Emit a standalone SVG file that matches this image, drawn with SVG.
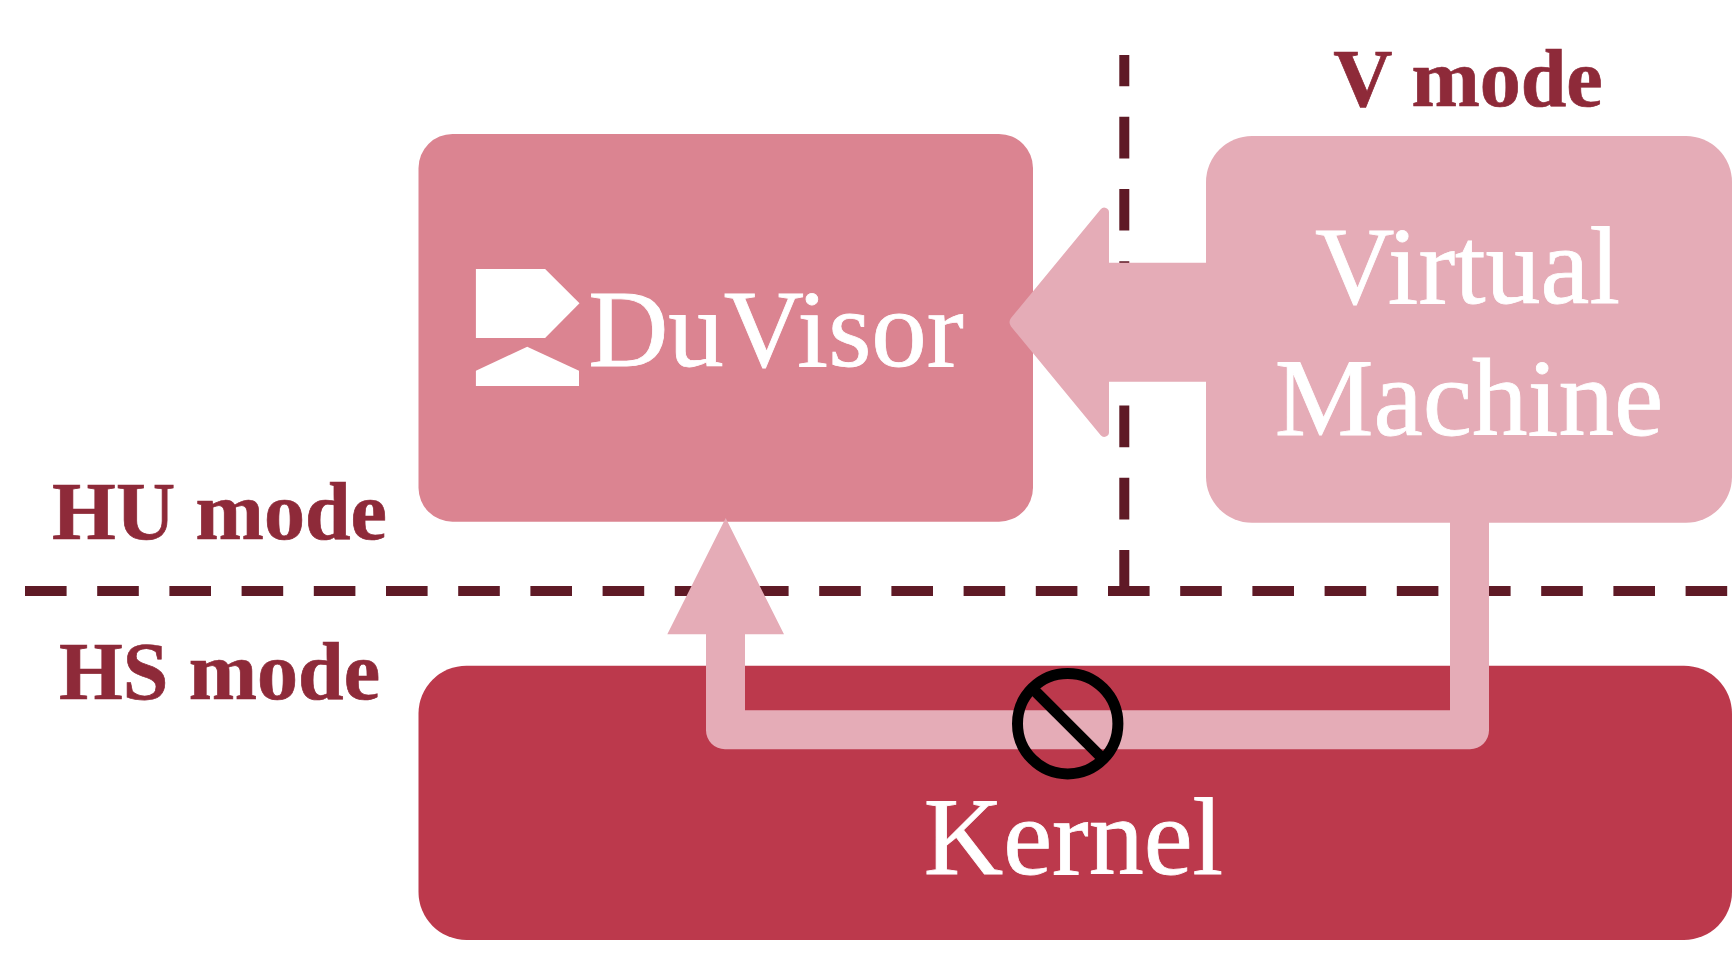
<svg xmlns="http://www.w3.org/2000/svg" width="1732" height="971" viewBox="0 0 1732 971">
<style>
.lbl{font-family:"Liberation Serif","Times New Roman",serif;font-size:110px;fill:#fff;stroke:#fff;stroke-width:.8;text-anchor:middle}
.mode{font-family:"Liberation Serif","Times New Roman",serif;font-size:82px;font-weight:bold;fill:#8E2A39;stroke:#8E2A39;stroke-width:.7;text-anchor:middle}
.dash{fill:none;stroke:#5F1A26;stroke-width:10;stroke-dasharray:41.6 30.6}
.flow{fill:#E5ACB7}
</style>
<rect width="1732" height="971" fill="#fff"/>
<g id="boundaries">
<path class="dash" d="M25 591H1727.5"/>
<path class="dash" d="M1124.3 55V591" stroke-dashoffset="10.4"/>
</g>
<g id="mode-labels">
<text class="mode" x="219.5" y="538.7">HU mode</text>
<text class="mode" x="219.5" y="699.3">HS mode</text>
<text class="mode" x="1468" y="106">V mode</text>
</g>
<g id="duvisor">
<rect x="418.5" y="134" width="614.5" height="387.7" rx="34" fill="#DB8491"/>
<path fill="#fff" d="M475.9 269H545.1L579.5 303.3L545.1 338H475.9Z"/>
<path fill="#fff" d="M475.9 370.7L527.2 346.7L579 370.7V386H475.9Z"/>
<text class="lbl" x="776" y="365.5" font-size="111" style="font-size:111px">DuVisor</text>
</g>
<g id="virtual-machine">
<rect x="1206" y="136" width="526" height="386.7" rx="46" fill="#E5ACB7"/>
<text class="lbl" x="1467.5" y="302.7">Virtual</text>
<text class="lbl" x="1469" y="434.7" style="font-size:111px">Machine</text>
</g>
<g id="kernel">
<rect x="418.5" y="665.7" width="1313.5" height="274.3" rx="48" fill="#BC394C"/>
<text class="lbl" x="1073.5" y="873.7">Kernel</text>
</g>
<g id="connectors">
<path class="flow" d="M1206 262.7H1109V212.5A4.7 4.7 0 0 0 1100.7 209.3L1011 318Q1008 322.2 1011 326.4L1100.7 435.2A4.7 4.7 0 0 0 1109 432V381.7H1206Z"/>
<path class="flow" d="M1450 520V710.3H745V634.3H784L725.7 518L667.3 634.3H706V730.3A19 19 0 0 0 725 749.3H1470A19 19 0 0 0 1489 730.3V520Z"/>
<g id="blocked" fill="none" stroke="#000" stroke-width="11">
<circle cx="1067.7" cy="723.7" r="50.2"/>
<path d="M1033 689L1102.4 758.4"/>
</g>
</g>
</svg>
